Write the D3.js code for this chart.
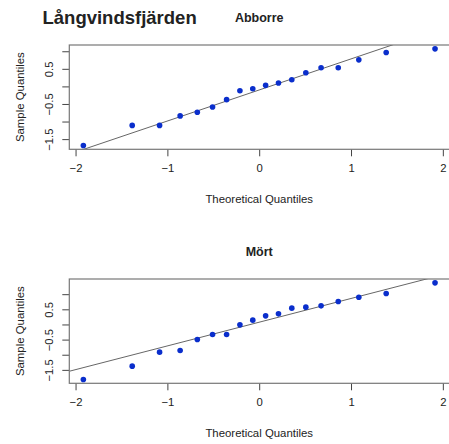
<!DOCTYPE html>
<html><head><meta charset="utf-8">
<script src="https://cdn.jsdelivr.net/npm/d3@7"></script>
<style>
body{margin:0;background:#fff;}
text{font-family:"Liberation Sans",Arial,sans-serif;fill:#222;}
</style></head>
<body><svg id="c" width="449" height="444"></svg>
<script>
const mainTitle = "Långvindsfjärden";
const panelTitles = ["Abborre", "Mört"];
const theoretical = [-1.915,-1.383,-1.085,-0.861,-0.674,-0.508,-0.355,-0.210,-0.070,
                      0.070, 0.210, 0.355, 0.508, 0.674, 0.861, 1.085, 1.383, 1.915];
const abborre = [-1.68,-1.11,-1.11,-0.84,-0.735,-0.585,-0.377,-0.122,-0.065,
                  0.03, 0.095, 0.19, 0.388, 0.53, 0.53, 0.756, 0.963, 1.068];
const mort = [-1.816,-1.377,-0.915,-0.859,-0.495,-0.33,-0.33,-0.013,0.142,
               0.284, 0.35, 0.538, 0.571, 0.614, 0.76, 0.9, 1.024, 1.374];
const xTicks = [-2,-1,0,1,2];
const yTicks = [-1.5,-1,-0.5,0,0.5,1];
const yLabelled = [-1.5,-0.5,0.5];
const xLabel = "Theoretical Quantiles";
const yLabel = "Sample Quantiles";

const svg = d3.select("#c");
const ptColor = "#0a2ecc";

function pad(ext){const w=ext[1]-ext[0];return [ext[0]-0.04*w, ext[1]+0.04*w];}
function quant(arr,p){const s=arr.slice().sort((a,b)=>a-b);const h=(s.length-1)*p;const lo=Math.floor(h);return s[lo]+(h-lo)*((s[lo+1]??s[lo])-s[lo]);}

svg.append("text").attr("x",42.5).attr("y",24).attr("font-size",18.5).attr("font-weight","bold").text(mainTitle);

function panel(vals, top, title, idx){
  const left=69.3, right=449.1, bottom=top+104.3;
  const x=d3.scaleLinear().domain(pad(d3.extent(theoretical))).range([left,right]);
  const y=d3.scaleLinear().domain(pad(d3.extent(vals))).range([bottom,top]);
  const g=svg.append("g");
  g.append("text").attr("x",(left+right)/2).attr("y",top-23.5).attr("text-anchor","middle")
    .attr("font-size",12.5).attr("font-weight","bold").text(title);
  const ax=g.append("g").attr("transform",`translate(0,${bottom})`)
    .call(d3.axisBottom(x).tickValues(xTicks).tickSize(7).tickPadding(8).tickFormat(d3.format("d")));
  ax.select(".domain").remove();
  ax.selectAll("line").attr("stroke","#444");
  ax.selectAll("text").attr("font-size",11.3).attr("fill","#222");
  const ay=g.append("g").attr("transform",`translate(${left},0)`)
    .call(d3.axisLeft(y).tickValues(yTicks).tickSize(7).tickPadding(0)
      .tickFormat(d=>yLabelled.includes(d)?d3.format("")(d):""));
  ay.select(".domain").remove();
  ay.selectAll("line").attr("stroke","#444");
  ay.selectAll("text").attr("font-size",11.3).attr("fill","#222")
    .attr("transform","translate(-20,0) rotate(-90)").attr("text-anchor","middle").attr("x",0).attr("dy","0.32em");
  g.append("text").attr("x",(left+right)/2).attr("y",bottom+54).attr("text-anchor","middle")
    .attr("font-size",11.4).text(xLabel);
  g.append("text").attr("transform",`translate(24,${(top+bottom)/2}) rotate(-90)`).attr("text-anchor","middle")
    .attr("font-size",11.4).text(yLabel);
  const cid="clip"+idx;
  g.append("clipPath").attr("id",cid).append("rect").attr("x",left).attr("y",top).attr("width",right-left).attr("height",bottom-top);
  const q1=quant(vals,0.25), q3=quant(vals,0.75);
  const z1=-0.6744898, z3=0.6744898;
  const slope=(q3-q1)/(z3-z1), icpt=q1-slope*z1;
  const xd=x.domain();
  g.append("line").attr("clip-path",`url(#${cid})`)
    .attr("x1",x(xd[0])).attr("y1",y(icpt+slope*xd[0]))
    .attr("x2",x(xd[1])).attr("y2",y(icpt+slope*xd[1]))
    .attr("stroke","#666").attr("stroke-width",1);
  g.append("rect").attr("x",left).attr("y",top).attr("width",right-left+2).attr("height",bottom-top)
    .attr("fill","none").attr("stroke","#777").attr("stroke-width",1.2);
  g.selectAll("circle").data(vals).join("circle")
    .attr("cx",(d,i)=>x(theoretical[i])).attr("cy",d=>y(d)).attr("r",2.8).attr("fill",ptColor);
}
panel(abborre,45,panelTitles[0],0);
panel(mort,279,panelTitles[1],1);
</script></body></html>
